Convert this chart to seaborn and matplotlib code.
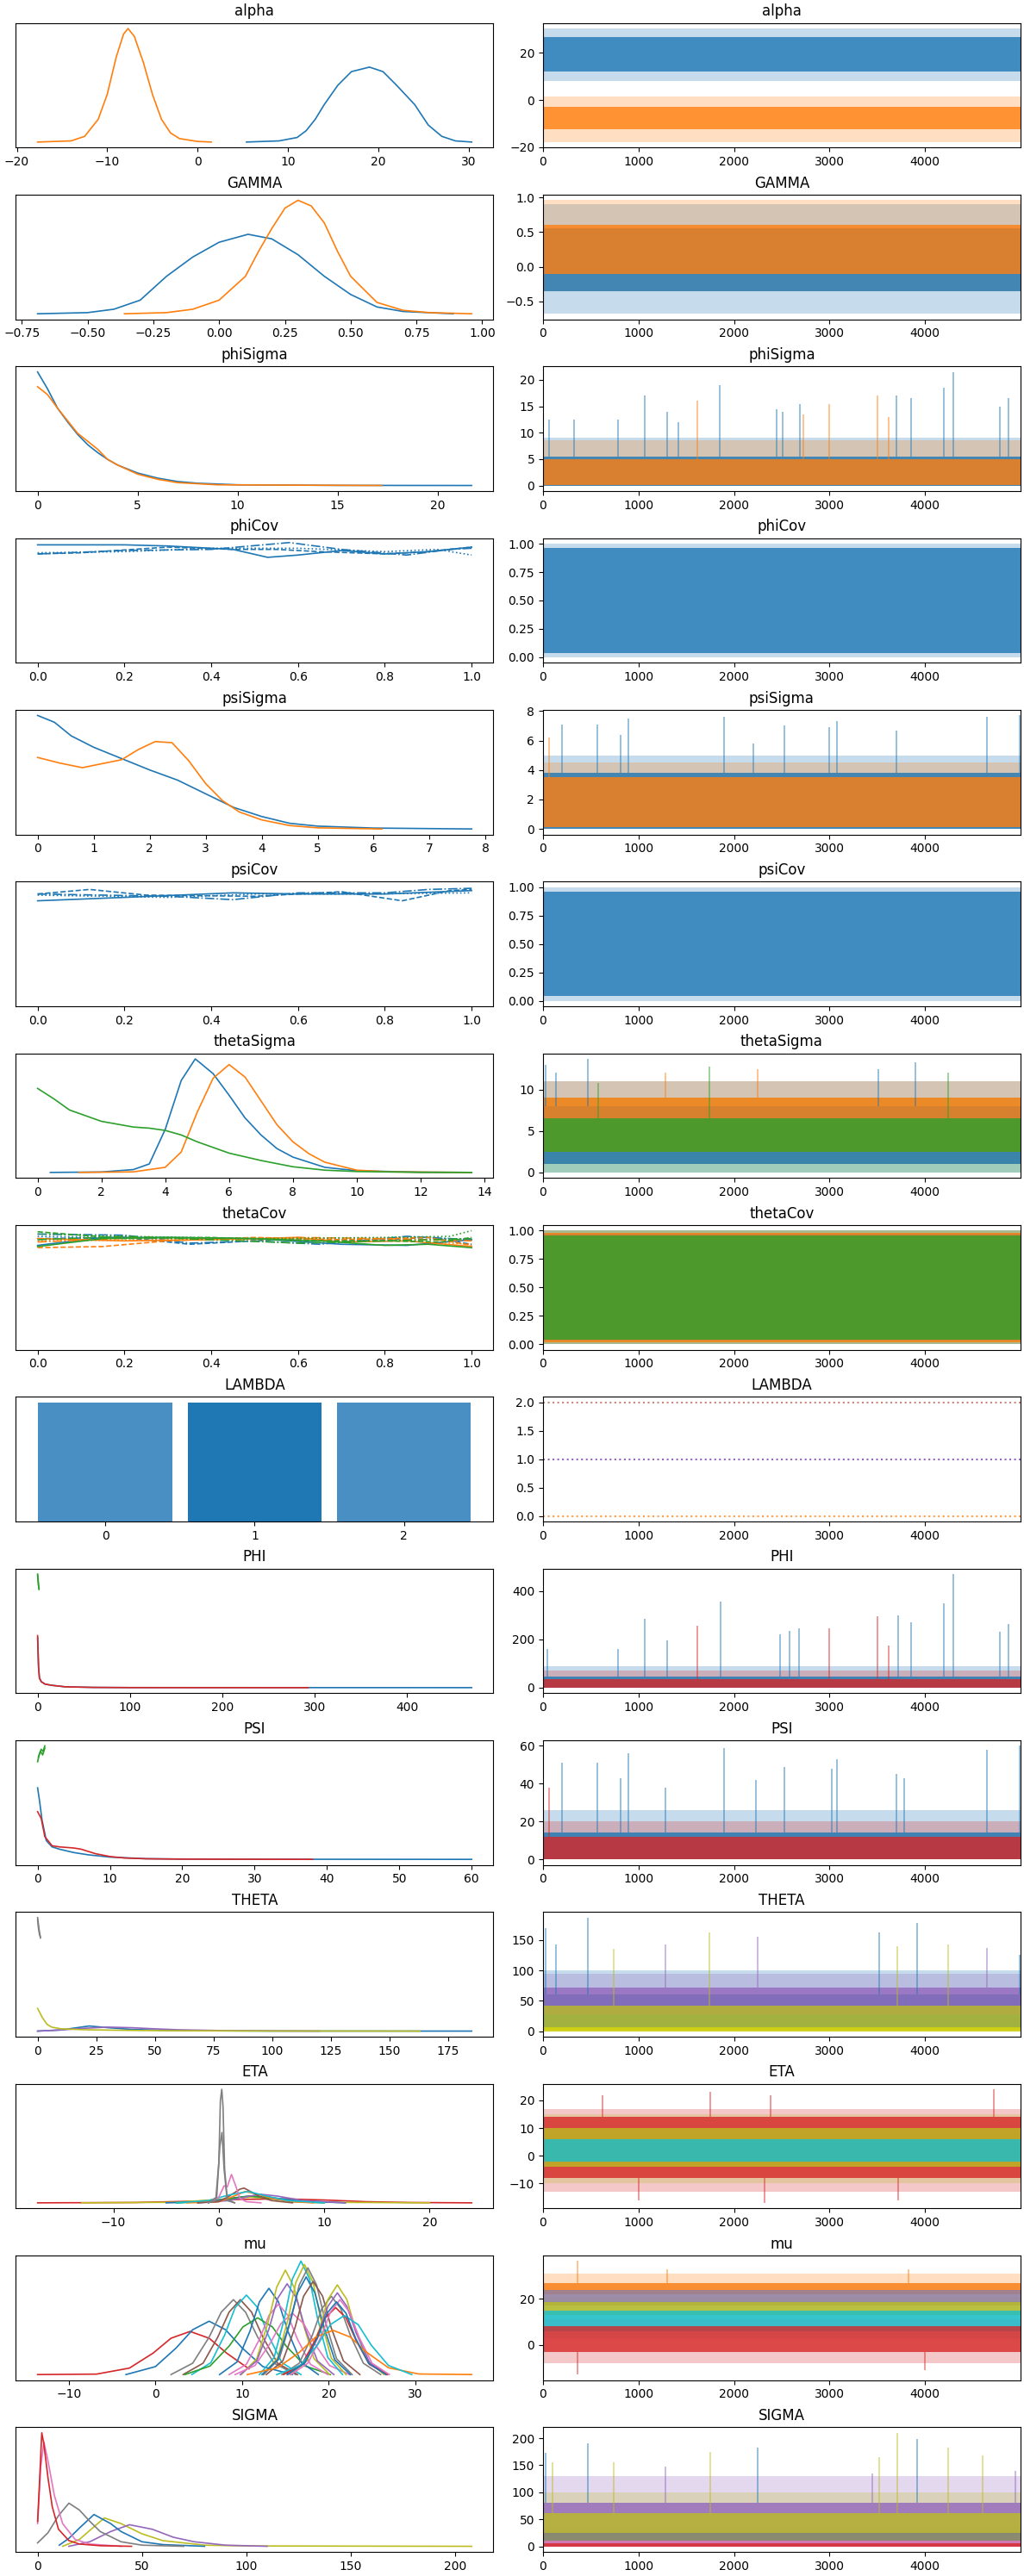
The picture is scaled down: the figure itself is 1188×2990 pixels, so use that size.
import seaborn as sns
import matplotlib.pyplot as plt

DRAWS = 5000
NAMES = ["alpha", "GAMMA", "phiSigma", "phiCov", "psiSigma", "psiCov", "thetaSigma",
         "thetaCov", "LAMBDA", "PHI", "PSI", "THETA", "ETA", "mu", "SIGMA"]

# ---- posterior densities (relative heights) ----
ALPHA_KDE_X = [[-17.7, -14, -12.5, -11, -10, -9, -8.2, -7.7, -7, -6, -5, -4, -3, -2, 0, 1.5],
               [5.4, 9, 11, 12, 13, 14, 15.5, 17, 19, 20.5, 22, 24, 25.5, 27, 28.5, 30.3]]
ALPHA_KDE_Y = [[0, 0.01, 0.05, 0.2, 0.42, 0.75, 0.95, 1.0, 0.93, 0.7, 0.42, 0.2, 0.08, 0.03, 0.005, 0],
               [0, 0.01, 0.04, 0.1, 0.2, 0.33, 0.5, 0.62, 0.66, 0.62, 0.5, 0.33, 0.15, 0.05, 0.01, 0]]
ALPHA_KDE_C = ["C1", "C0"]

GAMMA_KDE_X = [[-0.69, -0.5, -0.4, -0.3, -0.2, -0.1, 0.0, 0.11, 0.2, 0.3, 0.4, 0.5, 0.6, 0.7, 0.89],
               [-0.36, -0.2, -0.1, 0.0, 0.1, 0.15, 0.2, 0.25, 0.3, 0.35, 0.4, 0.45, 0.5, 0.6, 0.7, 0.8, 0.96]]
GAMMA_KDE_Y = [[0, 0.01, 0.04, 0.12, 0.33, 0.5, 0.63, 0.70, 0.66, 0.52, 0.33, 0.17, 0.06, 0.02, 0],
               [0, 0.01, 0.04, 0.12, 0.33, 0.55, 0.75, 0.93, 1.0, 0.95, 0.8, 0.55, 0.33, 0.1, 0.03, 0.01, 0]]
GAMMA_KDE_C = ["C0", "C1"]

PHISIGMA_KDE_X = [[0, 0.5, 1, 1.5, 2, 2.5, 3, 3.5, 4, 5, 6, 7, 8, 10, 15, 21.7],
                  [0, 0.5, 1, 2, 2.5, 3, 3.5, 4, 5, 6, 7, 9, 17.2]]
PHISIGMA_KDE_Y = [[1.0, 0.85, 0.68, 0.56, 0.45, 0.36, 0.29, 0.23, 0.18, 0.11, 0.065, 0.035, 0.02, 0.006, 0.001, 0],
                  [0.87, 0.8, 0.68, 0.46, 0.39, 0.32, 0.23, 0.18, 0.1, 0.055, 0.025, 0.006, 0]]
PHISIGMA_KDE_C = ["C0", "C1"]

PHICOV_KDE_X = [[0, 0.2, 0.3, 0.45, 0.53, 0.6, 0.7, 0.8, 0.9, 1.0],
                [0, 0.1, 0.3, 0.45, 0.55, 0.65, 0.8, 0.9, 1.0],
                [0, 0.2, 0.4, 0.6, 0.8, 0.92, 1.0],
                [0, 0.2, 0.4, 0.58, 0.7, 0.85, 0.95, 1.0]]
PHICOV_KDE_Y = [[1.04, 1.04, 1.03, 1.0, 0.93, 0.95, 0.99, 0.96, 0.98, 1.02],
                [0.96, 0.97, 1.02, 1.0, 1.0, 0.98, 0.96, 0.98, 1.02],
                [0.97, 0.98, 1.01, 1.01, 0.98, 1.0, 0.95],
                [0.96, 0.99, 1.0, 1.06, 1.0, 0.95, 1.0, 1.01]]
PHICOV_KDE_C = ["C0"] * 4

PSISIGMA_KDE_X = [[0, 0.3, 0.6, 1.0, 1.5, 2, 2.5, 3, 3.5, 4, 4.5, 5, 6, 7.75],
                  [0, 0.4, 0.8, 1.5, 1.8, 2.1, 2.4, 2.7, 3, 3.3, 3.6, 4, 4.5, 5, 6.15]]
PSISIGMA_KDE_Y = [[1.0, 0.94, 0.82, 0.72, 0.62, 0.52, 0.43, 0.31, 0.19, 0.11, 0.05, 0.025, 0.008, 0],
                  [0.63, 0.58, 0.54, 0.61, 0.7, 0.77, 0.76, 0.6, 0.4, 0.25, 0.15, 0.08, 0.03, 0.01, 0]]
PSISIGMA_KDE_C = ["C0", "C1"]

PSICOV_KDE_X = [[0, 0.2, 0.45, 0.6, 0.8, 1.0],
                [0, 0.12, 0.25, 0.5, 0.7, 0.84, 0.95, 1.0],
                [0, 0.3, 0.5, 0.75, 1.0],
                [0, 0.3, 0.45, 0.6, 0.8, 0.9, 1.0]]
PSICOV_KDE_Y = [[0.93, 0.96, 1.0, 0.99, 0.99, 1.02],
                [0.99, 1.03, 0.98, 0.97, 1.01, 0.93, 1.02, 1.03],
                [0.98, 0.96, 0.99, 0.99, 1.0],
                [0.99, 0.97, 0.94, 1.0, 1.0, 1.03, 1.04]]
PSICOV_KDE_C = ["C0"] * 4

THETASIGMA_KDE_X = [[0.4, 2, 3, 3.5, 4, 4.5, 4.94, 5.5, 6, 6.5, 7, 7.5, 8, 9, 10, 12, 13.6],
                    [1.3, 3, 4, 4.5, 5, 5.5, 6, 6.5, 7, 7.5, 8, 8.5, 9, 10, 11, 13.6],
                    [0, 0.5, 1, 2, 3, 3.5, 4, 4.5, 5, 6, 7, 8, 9, 10, 12, 13.6]]
THETASIGMA_KDE_Y = [[0, 0.004, 0.025, 0.075, 0.38, 0.81, 1.0, 0.87, 0.68, 0.48, 0.33, 0.21, 0.135, 0.045, 0.015, 0.002, 0],
                    [0, 0.005, 0.045, 0.18, 0.53, 0.83, 0.95, 0.84, 0.63, 0.42, 0.27, 0.165, 0.09, 0.02, 0.005, 0],
                    [0.74, 0.65, 0.55, 0.45, 0.4, 0.39, 0.37, 0.33, 0.27, 0.17, 0.105, 0.05, 0.02, 0.008, 0.001, 0]]
THETASIGMA_KDE_C = ["C0", "C1", "C2"]

THETACOV_KDE_X = [[0, 0.15, 0.3, 0.5, 0.7, 0.85, 1.0], [0, 0.2, 0.35, 0.55, 0.8, 0.9, 1.0],
                  [0, 0.3, 0.6, 0.9, 1.0], [0, 0.2, 0.35, 0.5, 0.65, 0.85, 1.0],
                  [0, 0.2, 0.4, 0.6, 0.7, 0.85, 1.0], [0, 0.15, 0.3, 0.5, 0.7, 0.9, 1.0],
                  [0, 0.3, 0.5, 0.8, 1.0], [0, 0.25, 0.45, 0.6, 0.8, 1.0],
                  [0, 0.15, 0.3, 0.5, 0.65, 0.8, 0.9, 1.0], [0, 0.2, 0.4, 0.6, 0.8, 0.93, 1.0],
                  [0, 0.2, 0.5, 0.8, 0.95, 1.0], [0, 0.2, 0.4, 0.6, 0.8, 1.0]]
THETACOV_KDE_Y = [[0.92, 0.99, 0.99, 0.98, 0.93, 0.92, 0.97], [0.98, 0.99, 0.93, 0.97, 0.97, 0.99, 0.93],
                  [1.0, 0.98, 0.98, 0.99, 0.96], [1.02, 1.01, 0.94, 0.96, 0.93, 1.0, 0.97],
                  [0.98, 0.96, 0.97, 0.99, 0.95, 0.96, 0.91], [0.90, 0.91, 0.96, 0.99, 0.97, 0.99, 0.92],
                  [0.96, 0.97, 0.97, 0.97, 0.93], [0.95, 0.99, 0.97, 0.99, 0.98, 0.96],
                  [0.91, 0.98, 0.99, 0.98, 0.96, 0.92, 0.93, 0.90], [1.04, 0.98, 0.99, 0.96, 0.96, 0.95, 0.99],
                  [1.02, 1.0, 0.98, 0.99, 1.0, 1.05], [0.97, 1.0, 0.97, 0.94, 0.96, 0.98]]
THETACOV_KDE_C = ["C0"] * 4 + ["C1"] * 4 + ["C2"] * 4

LAMBDA_VALUES = [0, 1, 2]
LAMBDA_SHARE = [0.333, 0.334, 0.333]
LAMBDA_BAR_C = ["#4a8fc4", "#1f77b4", "#4a8fc4"]

PHI_KDE_X = [[0, 0.5, 1, 2, 4, 8, 15, 30, 60, 100, 470],
             [0, 0.5, 1, 2, 4, 8, 15, 30, 60, 100, 293],
             [0, 0.5, 1.0, 1.5], [0, 0.5, 1.0, 1.5]]
PHI_KDE_Y = [[0.42, 0.3, 0.17, 0.08, 0.05, 0.03, 0.02, 0.007, 0.002, 0.0005, 0],
             [0.44, 0.31, 0.18, 0.08, 0.05, 0.03, 0.02, 0.007, 0.002, 0.0005, 0],
             [0.96, 0.92, 0.87, 0.83], [0.95, 0.9, 0.86, 0.84]]
PHI_KDE_C = ["C0", "C3", "C2", "C2"]

PSI_KDE_X = [[0, 0.3, 0.6, 1.2, 2, 3, 5, 7, 10, 15, 20, 30, 60],
             [0, 0.5, 1, 2, 3, 4, 5, 6, 8, 10, 12, 15, 20, 38],
             [0, 0.25, 0.5, 0.75, 1.0], [0.1, 0.4, 0.7, 1.0]]
PSI_KDE_Y = [[0.63, 0.5, 0.35, 0.165, 0.11, 0.09, 0.06, 0.04, 0.02, 0.006, 0.003, 0.001, 0],
             [0.42, 0.36, 0.2, 0.12, 0.11, 0.105, 0.1, 0.09, 0.05, 0.025, 0.012, 0.005, 0.002, 0],
             [0.86, 0.93, 0.97, 0.95, 1.0], [0.9, 0.95, 0.92, 0.98]]
PSI_KDE_C = ["C0", "C3", "C2", "C2"]

THETA_KDE_X = [[0, 10, 15, 22, 30, 40, 60, 100, 185],
               [0, 10, 20, 30, 40, 50, 60, 80, 120],
               [0, 2, 4, 6, 10, 20, 40, 60, 100, 163],
               [0, 0.3, 0.6, 0.9, 1.2], [0, 0.4, 0.8, 1.2]]
THETA_KDE_Y = [[0, 0.01, 0.025, 0.045, 0.03, 0.015, 0.004, 0.0005, 0],
               [0, 0.01, 0.025, 0.035, 0.03, 0.02, 0.012, 0.004, 0],
               [0.2, 0.12, 0.06, 0.035, 0.02, 0.012, 0.006, 0.003, 0.001, 0],
               [1.0, 0.95, 0.9, 0.86, 0.82], [0.98, 0.9, 0.85, 0.83]]
THETA_KDE_C = ["C0", "C4", "C8", "C7", "C7"]

ETA_KDE_X = [[-17.2, -8, -2, 2, 6, 10, 14, 18, 24],
             [-13, -4, 0, 3, 6, 10, 20],
             [-5, -1, 1, 3, 5, 8, 12],
             [-4, 0, 2, 3, 4.5, 7, 10],
             [-2, 1, 3, 4, 5.5, 8, 12],
             [-3, 0, 1.2, 2.5, 3.5, 5, 7, 9],
             [-2, 0, 1, 2, 2.4, 3, 4, 5, 7],
             [-4, -1, 1, 2.8, 4.5, 6.5, 10],
             [-1.0, 0.0, 0.5, 0.8, 1.2, 1.6, 2.0, 2.6, 4.0],
             [-1, -0.2, 0.1, 0.3, 0.5, 0.8, 1.5],
             [-1.0, -0.3, 0.0, 0.15, 0.28, 0.4, 0.55, 0.8, 1.5]]
ETA_KDE_Y = [[0, 0.003, 0.015, 0.03, 0.035, 0.025, 0.01, 0.003, 0],
             [0, 0.005, 0.03, 0.05, 0.03, 0.005, 0],
             [0, 0.01, 0.04, 0.06, 0.045, 0.015, 0],
             [0, 0.015, 0.05, 0.06, 0.045, 0.01, 0],
             [0, 0.02, 0.06, 0.075, 0.06, 0.02, 0],
             [0, 0.01, 0.05, 0.1, 0.08, 0.04, 0.01, 0],
             [0, 0.01, 0.06, 0.12, 0.13, 0.1, 0.05, 0.02, 0],
             [0, 0.02, 0.07, 0.1, 0.06, 0.02, 0],
             [0, 0.05, 0.15, 0.14, 0.25, 0.15, 0.04, 0.01, 0],
             [0, 0.05, 0.5, 0.62, 0.3, 0.02, 0],
             [0, 0.02, 0.35, 0.9, 1.0, 0.85, 0.3, 0.03, 0]]
ETA_KDE_C = ["C3", "C8", "C0", "C2", "C4", "C1", "C5", "C9", "C6", "C7", "C7"]

MU_KDE_X = [[-13.6, -6.8, -3.0, -0.25, 1.8, 4.0, 6.2, 8.2, 10.8],
            [-3.4, 0.0, 2.4, 4.3, 6.2, 8.1, 10.0, 12.4, 15.8],
            [1.8, 4.3, 6.2, 7.6, 9.0, 10.4, 11.8, 13.7, 16.2],
            [3.2, 5.5, 7.2, 8.5, 9.8, 11.1, 12.4, 14.1, 16.4],
            [4.2, 6.4, 8.0, 9.2, 10.5, 11.8, 13.0, 14.6, 16.8],
            [3.4, 6.3, 8.5, 10.1, 11.8, 13.5, 15.1, 17.3, 20.2],
            [7.4, 9.4, 10.9, 12.0, 13.1, 14.2, 15.3, 16.8, 18.8],
            [8.5, 10.5, 12.0, 13.1, 14.2, 15.3, 16.4, 17.9, 19.9],
            [9.9, 11.7, 13.0, 14.0, 15.0, 16.0, 17.0, 18.3, 20.1],
            [9.8, 11.7, 13.1, 14.1, 15.2, 16.3, 17.3, 18.7, 20.6],
            [9.2, 11.5, 13.2, 14.5, 15.8, 17.1, 18.4, 20.1, 22.4],
            [12.0, 13.7, 14.9, 15.8, 16.8, 17.8, 18.7, 19.9, 21.6],
            [12.4, 14.1, 15.3, 16.2, 17.2, 18.2, 19.1, 20.3, 22.0],
            [12.5, 14.3, 15.6, 16.6, 17.6, 18.6, 19.6, 20.9, 22.7],
            [12.3, 14.1, 15.4, 16.4, 17.4, 18.4, 19.4, 20.7, 22.5],
            [12.8, 14.7, 16.1, 17.1, 18.2, 19.3, 20.3, 21.7, 23.6],
            [14.6, 16.6, 18.1, 19.2, 20.3, 21.4, 22.5, 24.0, 26.0],
            [15.6, 17.5, 18.9, 19.9, 21.0, 22.1, 23.1, 24.5, 26.4],
            [15.3, 17.3, 18.8, 19.9, 21.0, 22.1, 23.2, 24.7, 26.7],
            [14.8, 16.9, 18.4, 19.6, 20.8, 22.0, 23.2, 24.7, 26.8],
            [15.6, 17.6, 19.1, 20.2, 21.3, 22.4, 23.5, 25.0, 27.0],
            [10.6, 14.1, 16.6, 18.5, 20.5, 22.5, 24.4, 26.9, 30.4, 36.5],
            [14.0, 16.7, 18.7, 20.2, 21.8, 23.4, 24.9, 26.9, 29.6],
            [15.2, 17.2, 18.7, 19.8, 20.9, 22.0, 23.1, 24.6, 26.6]]
MU_KDE_Y = [[0, 0.004, 0.057, 0.19, 0.32, 0.38, 0.32, 0.19, 0.05],
            [0, 0.07, 0.235, 0.395, 0.47, 0.395, 0.235, 0.07, 0],
            [0, 0.1, 0.33, 0.55, 0.66, 0.55, 0.33, 0.1, 0],
            [0, 0.1, 0.33, 0.55, 0.66, 0.55, 0.33, 0.1, 0],
            [0, 0.105, 0.35, 0.59, 0.70, 0.59, 0.35, 0.105, 0],
            [0, 0.075, 0.25, 0.42, 0.5, 0.42, 0.25, 0.075, 0],
            [0, 0.11, 0.38, 0.64, 0.76, 0.64, 0.38, 0.11, 0],
            [0, 0.09, 0.31, 0.52, 0.62, 0.52, 0.31, 0.09, 0],
            [0, 0.14, 0.46, 0.77, 0.92, 0.77, 0.46, 0.14, 0],
            [0, 0.12, 0.4, 0.67, 0.8, 0.67, 0.4, 0.12, 0],
            [0, 0.08, 0.27, 0.45, 0.54, 0.45, 0.27, 0.08, 0],
            [0, 0.15, 0.5, 0.84, 1.0, 0.84, 0.5, 0.15, 0],
            [0, 0.145, 0.485, 0.81, 0.97, 0.81, 0.485, 0.145, 0],
            [0, 0.14, 0.47, 0.79, 0.94, 0.79, 0.47, 0.14, 0],
            [0, 0.13, 0.43, 0.72, 0.86, 0.72, 0.43, 0.13, 0],
            [0, 0.12, 0.41, 0.69, 0.82, 0.69, 0.41, 0.12, 0],
            [0, 0.1, 0.345, 0.58, 0.69, 0.58, 0.345, 0.1, 0],
            [0, 0.12, 0.395, 0.66, 0.79, 0.66, 0.395, 0.12, 0],
            [0, 0.11, 0.36, 0.6, 0.72, 0.6, 0.36, 0.11, 0],
            [0, 0.09, 0.295, 0.5, 0.59, 0.5, 0.295, 0.09, 0],
            [0, 0.1, 0.33, 0.55, 0.66, 0.55, 0.33, 0.1, 0],
            [0, 0.06, 0.195, 0.33, 0.39, 0.33, 0.195, 0.06, 0.005, 0],
            [0, 0.08, 0.26, 0.44, 0.52, 0.44, 0.26, 0.08, 0],
            [0, 0.1, 0.32, 0.54, 0.64, 0.54, 0.32, 0.1, 0]]
MU_KDE_C = ["C3", "C0", "C7", "C5", "C9", "C2", "C0", "C6", "C8", "C4", "C6", "C9",
            "C8", "C7", "C0", "C5", "C7", "C8", "C4", "C3", "C6", "C1", "C9", "C0"]

SIGMA_KDE_X = [[12, 20, 25, 32, 40, 50, 60, 80, 100, 208],
               [15, 25, 35, 44, 55, 65, 75, 90, 110],
               [10.4, 15, 20, 27, 35, 40, 50, 60, 80],
               [0, 5, 10, 15, 20, 25, 30, 40, 50, 70],
               [0, 1.5, 3, 5, 8, 12, 18, 25, 40],
               [0, 1, 2, 3, 5, 7, 10, 15, 20, 30, 45]]
SIGMA_KDE_Y = [[0, 0.06, 0.14, 0.25, 0.2, 0.11, 0.05, 0.01, 0.003, 0],
               [0, 0.04, 0.13, 0.19, 0.15, 0.08, 0.04, 0.01, 0],
               [0.01, 0.07, 0.16, 0.28, 0.2, 0.13, 0.04, 0.015, 0],
               [0.03, 0.12, 0.27, 0.38, 0.32, 0.22, 0.13, 0.04, 0.01, 0],
               [0.2, 0.7, 0.92, 0.75, 0.45, 0.2, 0.06, 0.02, 0],
               [0.22, 0.6, 1.0, 0.9, 0.6, 0.35, 0.15, 0.05, 0.02, 0.005, 0]]
SIGMA_KDE_C = ["C8", "C4", "C0", "C7", "C6", "C3"]

# ---- trace column: dense band (core) and sparse band (ext) of each series ----
ALPHA_CORE = [(12, 26.5), (-12.3, -3)]
ALPHA_EXT = [(8, 30.3), (-17.8, 1.5)]
ALPHA_TC = ["C0", "C1"]

GAMMA_CORE = [(-0.35, 0.55), (-0.1, 0.6)]
GAMMA_EXT = [(-0.68, 0.9), (-0.35, 0.96)]
GAMMA_TC = ["C0", "C1"]

PHISIGMA_CORE = [(0, 5.5), (0.1, 5)]
PHISIGMA_EXT = [(0, 9), (0, 8.5)]
PHISIGMA_TC = ["C0", "C1"]
PHISIGMA_SPIKE_AT = [60, 330, 790, 1070, 1300, 1420, 1850, 2450, 2510, 2690, 3700, 3850, 4200, 4300, 4780, 4870,
                     1620, 2730, 3000, 3500, 3620]
PHISIGMA_SPIKE_VAL = [12.5, 12.5, 12.5, 17, 14, 12, 19, 14.5, 14, 15.5, 17, 16.5, 18.5, 21.5, 15, 16.5,
                      16, 13.5, 15.5, 17, 13]
PHISIGMA_SPIKE_SER = [0] * 16 + [1] * 5

PHICOV_CORE = [(0.04, 0.96)]
PHICOV_EXT = [(0, 1)]
PHICOV_TC = ["C0"]

PSISIGMA_CORE = [(0, 3.8), (0.1, 3.5)]
PSISIGMA_EXT = [(0, 5), (0, 4.5)]
PSISIGMA_TC = ["C0", "C1"]
PSISIGMA_SPIKE_AT = [200, 570, 810, 890, 1900, 2200, 2530, 3000, 3080, 3700, 4650, 4990, 60]
PSISIGMA_SPIKE_VAL = [7.1, 7.1, 6.4, 7.5, 7.6, 5.8, 7.0, 6.9, 7.3, 6.7, 7.6, 7.7, 6.2]
PSISIGMA_SPIKE_SER = [0] * 12 + [1]

PSICOV_CORE = [(0.04, 0.96)]
PSICOV_EXT = [(0, 1)]
PSICOV_TC = ["C0"]

THETASIGMA_CORE = [(1, 8), (2.5, 9), (2.5, 6.5)]
THETASIGMA_EXT = [(0, 11), (1, 11), (0, 9)]
THETASIGMA_TC = ["C0", "C1", "C2"]
THETASIGMA_SPIKE_AT = [30, 140, 470, 3510, 3900, 1280, 2250, 580, 1740, 4240]
THETASIGMA_SPIKE_VAL = [13, 12, 13.7, 12.5, 13.3, 12, 12.5, 10.8, 12.8, 12]
THETASIGMA_SPIKE_SER = [0, 0, 0, 0, 0, 1, 1, 2, 2, 2]

THETACOV_CORE = [(0.03, 0.97), (0.02, 0.98), (0.04, 0.96)]
THETACOV_EXT = [(0, 1), (0, 1), (0, 1)]
THETACOV_TC = ["C0", "C1", "C2"]

LAMBDA_LEVELS = [2, 1, 0]
LAMBDA_TC = ["#c8867c", "#9467bd", "#ff9e4a"]

PHI_CORE = [(0, 45), (0, 35)]
PHI_EXT = [(0, 90), (0, 70)]
PHI_TC = ["C0", "C3"]
PHI_SPIKE_AT = [50, 790, 1070, 1300, 1860, 2480, 2580, 2680, 3720, 3850, 4200, 4300, 4780, 4870,
                1620, 3000, 3500, 3620]
PHI_SPIKE_VAL = [160, 160, 285, 195, 355, 220, 235, 245, 300, 270, 350, 470, 230, 265,
                 255, 245, 295, 175]
PHI_SPIKE_SER = [0] * 14 + [1] * 4

PSI_CORE = [(0, 14), (0, 12)]
PSI_EXT = [(0, 26), (0, 20)]
PSI_TC = ["C0", "C3"]
PSI_SPIKE_AT = [200, 570, 810, 890, 1280, 1900, 2230, 2530, 3020, 3080, 3700, 3780, 4650, 4990, 60]
PSI_SPIKE_VAL = [51, 51, 43, 56, 38, 59, 42, 49, 48, 53, 45, 43, 58, 60, 38]
PSI_SPIKE_SER = [0] * 14 + [1]

THETA_CORE = [(5, 60), (28, 72), (2, 42), (0, 6)]
THETA_EXT = [(0, 100), (15, 95), (0, 60), (0, 8)]
THETA_TC = ["C0", "C4", "C8", "#d4d40a"]
THETA_SPIKE_AT = [30, 140, 470, 3520, 3920, 4990, 1280, 2250, 4650, 740, 1740, 3710, 4240]
THETA_SPIKE_VAL = [170, 143, 187, 163, 178, 125, 142, 155, 137, 135, 163, 140, 142]
THETA_SPIKE_SER = [0] * 6 + [1] * 3 + [2] * 4

ETA_CORE = [(-8, 14), (-4, 10), (-2, 6)]
ETA_EXT = [(-13, 17), (-10, 15), (-4, 8)]
ETA_TC = ["C3", "C8", "C9"]
ETA_SPIKE_AT = [620, 1750, 2380, 4720, 1000, 2320, 3720]
ETA_SPIKE_VAL = [22, 23, 22, 24, -16, -17, -16]
ETA_SPIKE_SER = [0] * 7

MU_CORE = [(22, 27), (17, 24), (13, 18.5), (6, 15), (-3, 8)]
MU_EXT = [(18, 31), (15, 27), (11, 21), (3, 19), (-8, 11)]
MU_TC = ["C1", "#8c7fa8", "C8", "C9", "C3"]
MU_SPIKE_AT = [360, 1300, 3830, 360, 4000]
MU_SPIKE_VAL = [36.5, 33, 33, -13, -11]
MU_SPIKE_SER = [0, 0, 0, 4, 4]

SIGMA_CORE = [(20, 80), (4, 62), (2, 24), (0, 11), (0, 6)]
SIGMA_EXT = [(5, 130), (0, 100), (0, 35), (0, 15), (0, 10)]
SIGMA_TC = ["C4", "C8", "C7", "C6", "C3"]
SIGMA_SPIKE_AT = [30, 470, 2250, 3920, 100, 740, 1750, 3520, 3710, 4240, 4600, 1280, 3450, 4950]
SIGMA_SPIKE_VAL = [173, 190, 182, 198, 155, 155, 175, 165, 210, 183, 168, 148, 135, 140]
SIGMA_SPIKE_SER = [0, 0, 0, 0, 1, 1, 1, 1, 1, 1, 1, 0, 0, 0]
SIGMA_SPIKE_C = ["C0"] * 4 + ["C8"] * 7 + ["C4"] * 3

COV_STYLES = ["-", "--", ":", "-."]

# table built from the named arrays above
kde = {
    "alpha": (ALPHA_KDE_X, ALPHA_KDE_Y, ALPHA_KDE_C, ["-"]),
    "GAMMA": (GAMMA_KDE_X, GAMMA_KDE_Y, GAMMA_KDE_C, ["-"]),
    "phiSigma": (PHISIGMA_KDE_X, PHISIGMA_KDE_Y, PHISIGMA_KDE_C, ["-"]),
    "phiCov": (PHICOV_KDE_X, PHICOV_KDE_Y, PHICOV_KDE_C, COV_STYLES),
    "psiSigma": (PSISIGMA_KDE_X, PSISIGMA_KDE_Y, PSISIGMA_KDE_C, ["-"]),
    "psiCov": (PSICOV_KDE_X, PSICOV_KDE_Y, PSICOV_KDE_C, COV_STYLES),
    "thetaSigma": (THETASIGMA_KDE_X, THETASIGMA_KDE_Y, THETASIGMA_KDE_C, ["-"]),
    "thetaCov": (THETACOV_KDE_X, THETACOV_KDE_Y, THETACOV_KDE_C, COV_STYLES),
    "PHI": (PHI_KDE_X, PHI_KDE_Y, PHI_KDE_C, ["-"]),
    "PSI": (PSI_KDE_X, PSI_KDE_Y, PSI_KDE_C, ["-"]),
    "THETA": (THETA_KDE_X, THETA_KDE_Y, THETA_KDE_C, ["-"]),
    "ETA": (ETA_KDE_X, ETA_KDE_Y, ETA_KDE_C, ["-"]),
    "mu": (MU_KDE_X, MU_KDE_Y, MU_KDE_C, ["-"]),
    "SIGMA": (SIGMA_KDE_X, SIGMA_KDE_Y, SIGMA_KDE_C, ["-"]),
}
trace = {
    "alpha": (ALPHA_CORE, ALPHA_EXT, ALPHA_TC, None),
    "GAMMA": (GAMMA_CORE, GAMMA_EXT, GAMMA_TC, None),
    "phiSigma": (PHISIGMA_CORE, PHISIGMA_EXT, PHISIGMA_TC,
                 (PHISIGMA_SPIKE_AT, PHISIGMA_SPIKE_VAL, PHISIGMA_SPIKE_SER)),
    "phiCov": (PHICOV_CORE, PHICOV_EXT, PHICOV_TC, None),
    "psiSigma": (PSISIGMA_CORE, PSISIGMA_EXT, PSISIGMA_TC,
                 (PSISIGMA_SPIKE_AT, PSISIGMA_SPIKE_VAL, PSISIGMA_SPIKE_SER)),
    "psiCov": (PSICOV_CORE, PSICOV_EXT, PSICOV_TC, None),
    "thetaSigma": (THETASIGMA_CORE, THETASIGMA_EXT, THETASIGMA_TC,
                   (THETASIGMA_SPIKE_AT, THETASIGMA_SPIKE_VAL, THETASIGMA_SPIKE_SER)),
    "thetaCov": (THETACOV_CORE, THETACOV_EXT, THETACOV_TC, None),
    "PHI": (PHI_CORE, PHI_EXT, PHI_TC, (PHI_SPIKE_AT, PHI_SPIKE_VAL, PHI_SPIKE_SER)),
    "PSI": (PSI_CORE, PSI_EXT, PSI_TC, (PSI_SPIKE_AT, PSI_SPIKE_VAL, PSI_SPIKE_SER)),
    "THETA": (THETA_CORE, THETA_EXT, THETA_TC, (THETA_SPIKE_AT, THETA_SPIKE_VAL, THETA_SPIKE_SER)),
    "ETA": (ETA_CORE, ETA_EXT, ETA_TC, (ETA_SPIKE_AT, ETA_SPIKE_VAL, ETA_SPIKE_SER)),
    "mu": (MU_CORE, MU_EXT, MU_TC, (MU_SPIKE_AT, MU_SPIKE_VAL, MU_SPIKE_SER)),
    "SIGMA": (SIGMA_CORE, SIGMA_EXT, SIGMA_TC, (SIGMA_SPIKE_AT, SIGMA_SPIKE_VAL, SIGMA_SPIKE_SER)),
}


def draw_kde(ax, xs, ys, colors, styles):
    for i, (x, y) in enumerate(zip(xs, ys)):
        sns.lineplot(x=x, y=y, color=colors[i], linestyle=styles[i % len(styles)],
                     linewidth=1.2, sort=False, estimator=None, ax=ax)


def draw_trace(ax, core, ext, colors, spikes, spike_colors=None):
    span = [0, DRAWS - 1]
    for (elo, ehi), c in zip(ext, colors):
        ax.fill_between(span, elo, ehi, color=c, alpha=0.25, lw=0)
    for (lo, hi), c in zip(core, colors):
        ax.fill_between(span, lo, hi, color=c, alpha=0.8, lw=0)
    if spikes is not None:
        at, val, ser = spikes
        for k, (a, v, s) in enumerate(zip(at, val, ser)):
            lo, hi = core[s]
            base = hi if v > hi else lo
            c = spike_colors[k] if spike_colors else colors[s]
            ax.vlines(a, base, v, color=c, alpha=0.5, lw=1.3)
    ax.set_xlim(0, DRAWS - 1)


fig, axes = plt.subplots(15, 2, figsize=(11.88, 29.9), dpi=100, layout="constrained")

for row, name in enumerate(NAMES):
    ax_l, ax_r = axes[row]
    ax_l.set_title(name)
    ax_r.set_title(name)
    if name == "LAMBDA":
        sns.barplot(x=LAMBDA_VALUES, y=LAMBDA_SHARE, hue=LAMBDA_VALUES, palette=LAMBDA_BAR_C,
                    width=0.9, saturation=1, legend=False, ax=ax_l)
        ax_l.set_xlim(-0.6, 2.6)
        ax_l.set_ylim(0, max(LAMBDA_SHARE) * 1.05)
        for lvl, c in zip(LAMBDA_LEVELS, LAMBDA_TC):
            sns.lineplot(x=[0, DRAWS - 1], y=[lvl, lvl], color=c, linestyle=":", linewidth=1.5, ax=ax_r)
        ax_r.set_xlim(0, DRAWS - 1)
    else:
        xs, ys, cs, st = kde[name]
        draw_kde(ax_l, xs, ys, cs, st)
        if name.endswith("Cov"):
            ax_l.set_ylim(0, 1.1)
        core, ext, tcs, spikes = trace[name]
        draw_trace(ax_r, core, ext, tcs, spikes, SIGMA_SPIKE_C if name == "SIGMA" else None)
    ax_l.set_yticks([])
    ax_l.set_xlabel("")
    ax_l.set_ylabel("")
    ax_r.set_xlabel("")
    ax_r.set_ylabel("")

fig.savefig("out.png", dpi=100)
